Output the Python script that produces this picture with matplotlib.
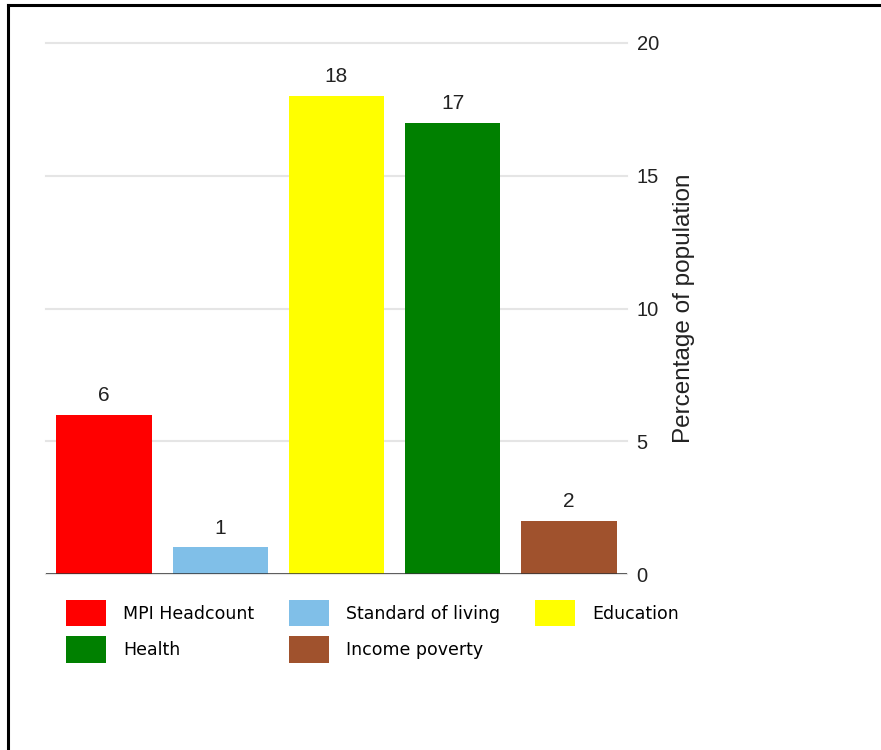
import matplotlib.pyplot as plt
from matplotlib.patches import Patch
from matplotlib.lines import Line2D

categories = ["MPI Headcount", "Standard of living", "Education", "Health", "Income poverty"]
values = [6, 1, 18, 17, 2]
colors = ["#ff0000", "#80bfe8", "#ffff00", "#008000", "#a0522d"]
yticks = [0, 5, 10, 15, 20]

fig = plt.figure(figsize=(8.81, 7.5), dpi=100)
ax = fig.add_axes([46 / 881, 1 - 574 / 750, 581 / 881, 531 / 750])

x = range(len(categories))
bars = ax.bar(x, values, width=0.82, color=colors, zorder=2)
ax.bar_label(bars, labels=[str(v) for v in values], padding=7,
             fontsize=15, family="Liberation Sans", color="#222222")

ax.set_xlim(-0.5, len(categories) - 0.5)
ax.set_ylim(0, 20)
ax.set_xticks([])
ax.set_yticks(yticks)
ax.yaxis.tick_right()
ax.yaxis.set_label_position("right")
ax.tick_params(axis="y", length=0, pad=7, labelsize=14.5, labelcolor="#222222")
for lbl in ax.get_yticklabels():
    lbl.set_family("Liberation Sans")
ax.set_ylabel("Percentage of population", fontsize=17.5, family="Liberation Sans",
              color="#222222", labelpad=10)
ax.grid(axis="y", color="#e5e5e5", linewidth=1.5, zorder=0)
for gl in ax.get_ygridlines():
    gl.set_clip_on(False)
ax.axhline(0, color="#333333", linewidth=1.8, zorder=3)
for s in ax.spines.values():
    s.set_visible(False)

# legend, reordered so it reads row by row
order = [0, 3, 1, 4, 2]
handles = [Patch(facecolor=colors[i], edgecolor="none") for i in order]
labels = [categories[i] for i in order]
fig.legend(handles, labels, ncol=3, loc="upper left",
           bbox_to_anchor=(66 / 881, 1 - 600 / 750), bbox_transform=fig.transFigure,
           frameon=False, borderpad=0, borderaxespad=0,
           prop={"family": "DejaVu Sans", "size": 12.5},
           handlelength=2.3, handleheight=1.95, handletextpad=1.0,
           labelspacing=0.58, columnspacing=2.0)

# frame lines at top and left
fig.add_artist(Line2D([8 / 881, 1], [1 - 5 / 750, 1 - 5 / 750], color="black",
                      linewidth=2.2, transform=fig.transFigure))
fig.add_artist(Line2D([8 / 881, 8 / 881], [0, 1 - 5 / 750], color="black",
                      linewidth=2.2, transform=fig.transFigure))

fig.savefig("out.png", dpi=100)
